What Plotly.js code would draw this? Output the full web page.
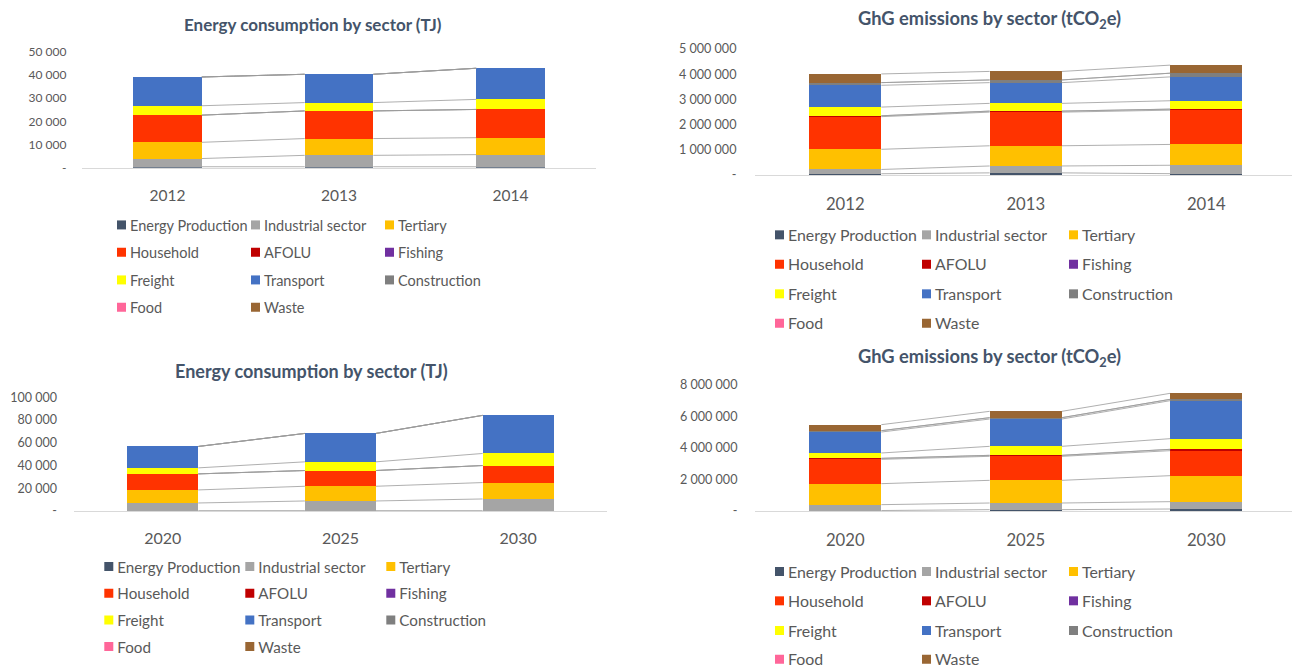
<!DOCTYPE html>
<html>
<head>
<meta charset="utf-8">
<script src="https://cdn.plot.ly/plotly-3.0.1.min.js"></script>
<style>
  html, body { margin: 0; padding: 0; background: #ffffff; }
  #chart { width: 1292px; height: 666px; }
</style>
</head>
<body>
<div id="chart"></div>
<script>
// ---- data -------------------------------------------------------------
const sectors = ['Energy Production', 'Industrial sector', 'Tertiary',
                 'Household', 'AFOLU', 'Fishing',
                 'Freight', 'Transport', 'Construction',
                 'Food', 'Waste'];
const sectorColors = ['#44546A', '#A5A5A5', '#FFC000',
                      '#FF3300', '#C00000', '#7030A0',
                      '#FFFF00', '#4472C4', '#7F7F7F',
                      '#FF6699', '#996633'];

const yearsHistoric = ['2012', '2013', '2014'];
const yearsProjected = ['2020', '2025', '2030'];

// one row per sector, one column per year
const energyHistoric = [ // TJ
  [400, 400, 400],
  [3550, 4930, 5230],
  [7000, 7230, 7300],
  [11700, 11910, 12180],
  [0, 0, 0],
  [0, 0, 0],
  [4050, 3600, 4330],
  [12400, 12200, 13420],
  [0, 0, 0],
  [0, 0, 0],
  [0, 0, 0]
];
const ghgHistoric = [ // tCO2e
  [50000, 85000, 53000],
  [170000, 273000, 334000],
  [800000, 802000, 826000],
  [1295000, 1335000, 1360000],
  [35000, 40000, 40000],
  [0, 0, 0],
  [345000, 308000, 334000],
  [865000, 822000, 946000],
  [105000, 107000, 147000],
  [0, 0, 0],
  [345000, 338000, 320000]
];
const energyProjected = [ // TJ
  [300, 300, 300],
  [6760, 8520, 10290],
  [11470, 12940, 14410],
  [14120, 13830, 15000],
  [0, 0, 0],
  [0, 0, 0],
  [5290, 7650, 10590],
  [18820, 25000, 33530],
  [0, 0, 0],
  [0, 0, 0],
  [0, 0, 0]
];
const ghgProjected = [ // tCO2e
  [30000, 85000, 127000],
  [372000, 423000, 466000],
  [1333000, 1439000, 1650000],
  [1545000, 1524000, 1588000],
  [64000, 63000, 84000],
  [0, 0, 0],
  [339000, 572000, 678000],
  [1333000, 1735000, 2412000],
  [84000, 85000, 85000],
  [0, 0, 0],
  [381000, 402000, 381000]
];

const energyHistoricTicks = ['-', '10 000', '20 000', '30 000', '40 000', '50 000'];
const ghgHistoricTicks = ['-', '1 000 000', '2 000 000', '3 000 000', '4 000 000', '5 000 000'];
const energyProjectedTicks = ['-', '20 000', '40 000', '60 000', '80 000', '100 000'];
const ghgProjectedTicks = ['-', '2 000 000', '4 000 000', '6 000 000', '8 000 000'];

const energyTitle = '<b>Energy consumption by sector (TJ)</b>';
const ghgTitle = '<b>GhG emissions by sector (tCO<sub>2</sub>e)</b>';

// ---- page geometry ------------------------------------------------------
const W = 1292, H = 666;
const FONT = 'Lato, "Open Sans", sans-serif';
const TEXT = '#595959';
const fx = px => px / W;
const fy = py => 1 - py / H;

const panels = [
  { data: energyHistoric, years: yearsHistoric, ticks: energyHistoricTicks, title: energyTitle,
    x0: 81.75, unit: 171.5, yZero: 167.7, yTopPx: 51.7,
    yTickLen: 12, yTickSize: 12, xTickLen: 14, xTickSize: 15.5,
    titleX: 313, titleY: 25, titleSize: 17,
    legendTextX: 130, legendStep: 134, legendRows: [225, 252.3, 280, 307.3], legendSize: 14.5 },
  { data: ghgHistoric, years: yearsHistoric, ticks: ghgHistoricTicks, title: ghgTitle,
    x0: 755, unit: 180.5, yZero: 175, yTopPx: 49,
    yTickLen: 15, yTickSize: 12.6, xTickLen: 14, xTickSize: 16.7,
    titleX: 989, titleY: 20, titleSize: 18.3,
    legendTextX: 788, legendStep: 147, legendRows: [235, 264.3, 294, 323.3], legendSize: 15.9 },
  { data: energyProjected, years: yearsProjected, ticks: energyProjectedTicks, title: energyTitle,
    x0: 73.9, unit: 177.7, yZero: 511, yTopPx: 397.3,
    yTickLen: 13.5, yTickSize: 12.5, xTickLen: 13, xTickSize: 16,
    titleX: 311.7, titleY: 370.5, titleSize: 18,
    legendTextX: 117.3, legendStep: 141, legendRows: [566.7, 593.3, 620, 646.7], legendSize: 15.2 },
  { data: ghgProjected, years: yearsProjected, ticks: ghgProjectedTicks, title: ghgTitle,
    x0: 755, unit: 180.5, yZero: 511, yTopPx: 385,
    yTickLen: 14, yTickSize: 12.6, xTickLen: 14, xTickSize: 16.7,
    titleX: 989, titleY: 357, titleSize: 18.3,
    legendTextX: 788, legendStep: 147, legendRows: [571.7, 601, 630.7, 659.3], legendSize: 15.9 }
];

const BAR_WIDTH = 0.4;
const tickValue = t => (t === '-' ? 0 : Number(t.replace(/\s/g, '')));

const traces = [];
const layout = {
  width: W, height: H,
  margin: { l: 0, r: 0, t: 0, b: 0, autoexpand: false },
  paper_bgcolor: '#ffffff', plot_bgcolor: '#ffffff',
  barmode: 'stack',
  showlegend: true,
  font: { family: FONT, color: TEXT },
  annotations: []
};

panels.forEach((p, pi) => {
  const n = pi + 1;
  const xa = 'x' + (n === 1 ? '' : n);
  const ya = 'y' + (n === 1 ? '' : n);
  const xKey = 'xaxis' + (n === 1 ? '' : n);
  const yKey = 'yaxis' + (n === 1 ? '' : n);
  const xEndPx = Math.min(W, p.x0 + 3 * p.unit);
  const xs = p.years.map((_, i) => i);
  const tickVals = p.ticks.map(tickValue);

  layout[xKey] = {
    domain: [fx(p.x0), fx(xEndPx)],
    range: [-0.5, -0.5 + (xEndPx - p.x0) / p.unit],
    anchor: ya,
    tickmode: 'array', tickvals: xs, ticktext: p.years,
    showgrid: false, zeroline: false,
    showline: true, linecolor: '#D9D9D9', linewidth: 1,
    ticks: 'outside', ticklen: p.xTickLen, tickcolor: 'rgba(0,0,0,0)',
    tickfont: { family: FONT, size: p.xTickSize, color: TEXT },
    fixedrange: true
  };
  layout[yKey] = {
    domain: [fy(p.yZero), fy(p.yTopPx)],
    range: [0, tickVals[tickVals.length - 1]],
    anchor: xa,
    tickmode: 'array', tickvals: tickVals, ticktext: p.ticks,
    showgrid: false, zeroline: false, showline: false,
    ticks: 'outside', ticklen: p.yTickLen, tickcolor: 'rgba(0,0,0,0)',
    tickfont: { family: FONT, size: p.yTickSize, color: TEXT },
    fixedrange: true
  };

  // one legend per row of three entries
  p.legendRows.forEach((rowY, r) => {
    const idx = pi * 4 + r;
    const key = idx === 0 ? 'legend' : 'legend' + (idx + 1);
    layout[key] = {
      orientation: 'h',
      x: fx(p.legendTextX - 40), y: fy(rowY),
      xanchor: 'left', yanchor: 'middle',
      xref: 'paper', yref: 'paper',
      entrywidth: p.legendStep - 45, entrywidthmode: 'pixels',
      traceorder: 'normal',
      bgcolor: 'rgba(0,0,0,0)', borderwidth: 0,
      font: { family: FONT, size: p.legendSize, color: TEXT },
      itemclick: false, itemdoubleclick: false
    };
  });

  // stacked bars
  p.data.forEach((vals, k) => {
    const idx = pi * 4 + Math.floor(k / 3);
    traces.push({
      type: 'bar', name: sectors[k],
      x: xs, y: vals, width: BAR_WIDTH,
      marker: { color: sectorColors[k], line: { width: 0 } },
      xaxis: xa, yaxis: ya,
      legend: idx === 0 ? 'legend' : 'legend' + (idx + 1),
      hoverinfo: 'name+y'
    });
  });

  // series lines joining the top of each segment between neighbouring bars
  const lx = [], ly = [];
  const cum = xs.map(() => 0);
  const tops = p.data.map(vals => vals.map((v, i) => (cum[i] += v)));
  tops.forEach(t => {
    for (let i = 0; i < xs.length - 1; i++) {
      lx.push(xs[i] + BAR_WIDTH / 2, xs[i + 1] - BAR_WIDTH / 2, null);
      ly.push(t[i], t[i + 1], null);
    }
  });
  traces.push({
    type: 'scatter', mode: 'lines', x: lx, y: ly,
    line: { color: '#9A9A9A', width: 0.8 },
    xaxis: xa, yaxis: ya, showlegend: false, hoverinfo: 'skip'
  });

  layout.annotations.push({
    text: p.title, xref: 'paper', yref: 'paper',
    x: fx(p.titleX), y: fy(p.titleY), xanchor: 'center', yanchor: 'middle',
    showarrow: false, font: { family: FONT, size: p.titleSize, color: '#44546A' }
  });
});

// small square keys sitting just before each legend label
const gd = document.getElementById('chart');
const KEY_HALF = 4.5;
const KEY_PATH = `M${KEY_HALF},${KEY_HALF}H${-KEY_HALF}V${-KEY_HALF}H${KEY_HALF}Z`;
function compactLegendKeys() {
  gd.querySelectorAll('g.traces').forEach(g => {
    try {
      const path = g.querySelector('.legendpoints path');
      const text = g.querySelector('text');
      if (!path || !text) return;
      if (path.getAttribute('d') !== KEY_PATH) path.setAttribute('d', KEY_PATH);
      const pr = path.getBoundingClientRect();
      const tr = text.getBoundingClientRect();
      if (!pr.width || !tr.width) return;
      const dx = (tr.left - 4 - KEY_HALF) - (pr.left + pr.width / 2);
      if (Math.abs(dx) < 0.3) return;
      const t = path.getAttribute('transform') || '';
      path.setAttribute('transform', `${t} translate(${dx.toFixed(2)},0)`);
    } catch (e) { /* leave the default key */ }
  });
}

// keep the keys compact whenever the legends are (re)styled
new MutationObserver(() => compactLegendKeys())
  .observe(gd, { subtree: true, childList: true, attributes: true, attributeFilter: ['d'] });

Plotly.newPlot(gd, traces, layout, { displayModeBar: false, staticPlot: true })
  .then(() => {
    compactLegendKeys();
    gd.on('plotly_afterplot', compactLegendKeys);
    requestAnimationFrame(compactLegendKeys);
    setTimeout(compactLegendKeys, 30);
    setTimeout(compactLegendKeys, 200);
  });
</script>
</body>
</html>
